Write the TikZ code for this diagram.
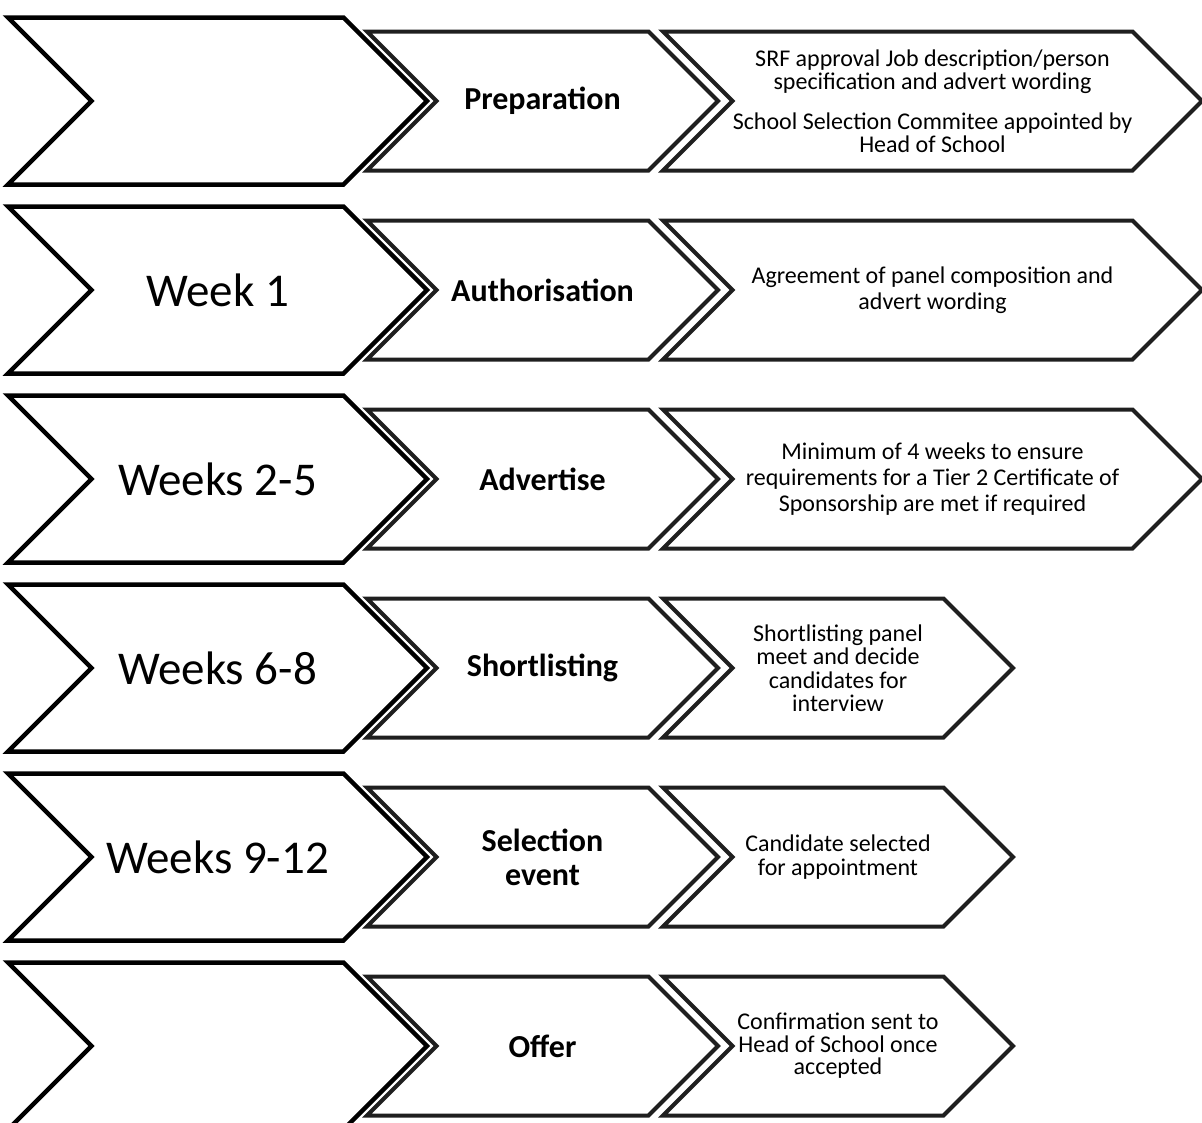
\documentclass[tikz,border=0pt]{standalone}
\usepackage{fontspec}
\setmainfont{Carlito}
\usetikzlibrary{shapes.symbols}

\tikzset{
  chev/.style={signal, signal from=west, signal to=east, signal pointer angle=90, draw, line width=4pt, fill=white, inner sep=0pt, outer sep=0pt, align=center},
  weekbox/.style={chev, draw=black, line width=4.5pt, minimum width=419pt, minimum height=167pt, font=\fontsize{47}{52}\selectfont},
  stagebox/.style={chev, draw=black!88, minimum width=351pt, minimum height=139pt, font=\bfseries\fontsize{32}{34}\selectfont},
  notebox/.style={chev, draw=black!88, minimum height=139pt, font=\fontsize{24}{24.5}\selectfont},
  longnote/.style={notebox, minimum width=539pt},
  shortnote/.style={notebox, minimum width=350pt}
}

\begin{document}
\begin{tikzpicture}[x=1pt, y=-1pt]
\useasboundingbox (0,0) rectangle (1202,1122);

% Preparation
\node (wk1) [weekbox] at (217.5,101) {};
\node (st1) [stagebox] at (542.5,101) {Preparation};
\node (nt1) [longnote, font=\fontsize{24}{23}\selectfont] at (932.5,101) {SRF approval Job description/person\\specification and advert wording\\[17pt]School Selection Commitee appointed by\\Head of School};

% Authorisation
\node (wk2) [weekbox] at (217.5,290) {Week 1};
\node (st2) [stagebox] at (542.5,290) {Authorisation};
\node (nt2) [longnote, font=\fontsize{24}{26}\selectfont] at (932.5,290) {Agreement of panel composition and\\advert wording};

% Advertise
\node (wk3) [weekbox] at (217.5,479) {Weeks 2-5};
\node (st3) [stagebox] at (542.5,479) {Advertise};
\node (nt3) [longnote, font=\fontsize{24}{26}\selectfont] at (932.5,479) {Minimum of 4 weeks to ensure\\requirements for a Tier 2 Certificate of\\Sponsorship are met if required};

% Shortlisting
\node (wk4) [weekbox] at (217.5,668) {Weeks 6-8};
\node (st4) [stagebox] at (542.5,668) {Shortlisting};
\node (nt4) [shortnote, font=\fontsize{24}{23.5}\selectfont] at (838,668) {Shortlisting panel\\meet and decide\\candidates for\\interview};

% Selection event
\node (wk5) [weekbox] at (217.5,857) {Weeks 9-12};
\node (st5) [stagebox] at (542.5,857) {Selection\\event};
\node (nt5) [shortnote] at (838,857) {Candidate selected\\for appointment};

% Offer
\node (wk6) [weekbox] at (217.5,1046) {};
\node (st6) [stagebox] at (542.5,1046) {Offer};
\node (nt6) [shortnote, font=\fontsize{24}{22.5}\selectfont] at (838,1046) {Confirmation sent to\\Head of School once\\accepted};
\end{tikzpicture}
\end{document}
